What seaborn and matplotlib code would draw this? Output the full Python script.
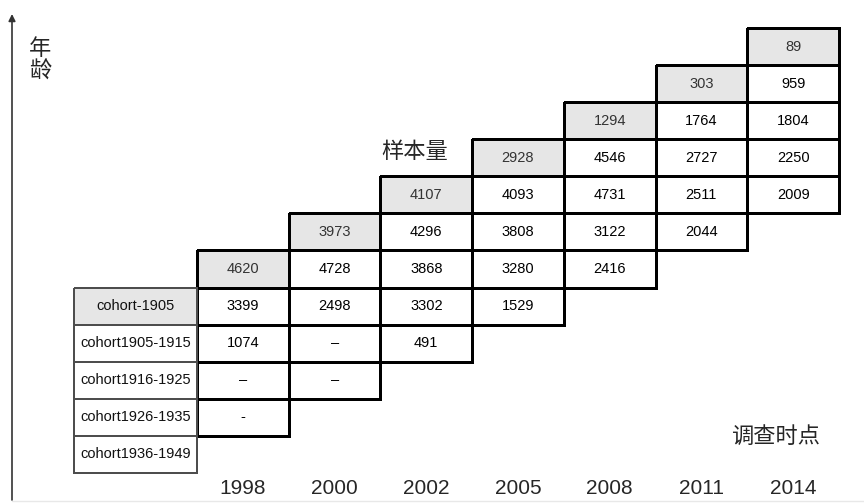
import numpy as np
import matplotlib
matplotlib.use("Agg")
import matplotlib.pyplot as plt
from matplotlib.colors import ListedColormap, to_rgba
import seaborn as sns

sns.set_style("white")
plt.rcParams['font.family'] = ['Liberation Sans', 'Noto Sans CJK SC', 'DejaVu Sans']

years = ["1998", "2000", "2002", "2005", "2008", "2011", "2014"]
cohorts = ["cohort-1905", "cohort1905-1915", "cohort1916-1925", "cohort1926-1935", "cohort1936-1949"]
# first entry of each survey column = gray header cell, then values going down
col_1998 = ["4620", "3399", "1074", "–", "-"]
col_2000 = ["3973", "4728", "2498", "–", "–"]
col_2002 = ["4107", "4296", "3868", "3302", "491"]
col_2005 = ["2928", "4093", "3808", "3280", "1529"]
col_2008 = ["1294", "4546", "4731", "3122", "2416"]
col_2011 = ["303", "1764", "2727", "2511", "2044"]
col_2014 = ["89", "959", "1804", "2250", "2009"]
columns = [col_1998, col_2000, col_2002, col_2005, col_2008, col_2011, col_2014]

n_rows = 12
# data grid: row 0 = top
fill = np.full((n_rows, len(years)), np.nan)
annot = np.full((n_rows, len(years)), "", dtype=object)
for j, col in enumerate(columns):
    top = n_rows - 1 - (5 + j)  # header row index from top
    for k, v in enumerate(col):
        fill[top + k, j] = 1 if k == 0 else 0
        annot[top + k, j] = v

lab_fill = np.full((n_rows, 1), np.nan)
lab_annot = np.full((n_rows, 1), "", dtype=object)
for k, c in enumerate(cohorts):
    r = n_rows - 5 + k
    lab_fill[r, 0] = 1 if k == 0 else 0
    lab_annot[r, 0] = c

cmap = ListedColormap(["white", "#e6e6e6"])


def hide_masked_edges(axis, data, color):
    # only keep cell borders where there is a value
    mesh = axis.collections[0]
    mesh.set_clip_on(False)
    ec = np.array([to_rgba(color)] * data.size)
    ec[np.isnan(data).ravel(), 3] = 0
    mesh.set_edgecolors(ec)


fig = plt.figure(figsize=(8.64, 5.04), dpi=100)
H = 504.0
W = 864.0
y_top, y_bot = 28, 473
ax = fig.add_axes([197 / W, 1 - y_bot / H, 642 / W, (y_bot - y_top) / H])
ax_lab = fig.add_axes([74 / W, 1 - y_bot / H, 123 / W, (y_bot - y_top) / H])

sns.heatmap(lab_fill, mask=np.isnan(lab_fill), annot=lab_annot, fmt="", cmap=cmap,
            vmin=0, vmax=1, cbar=False, linewidths=1.2, linecolor="#4d4d4d",
            xticklabels=False, yticklabels=False, ax=ax_lab,
            annot_kws={"fontsize": 10.5, "color": "#111111"})
hide_masked_edges(ax_lab, lab_fill, "#4d4d4d")
ax_lab.axis("off")

sns.heatmap(fill, mask=np.isnan(fill), annot=annot, fmt="", cmap=cmap,
            vmin=0, vmax=1, cbar=False, linewidths=2, linecolor="black",
            xticklabels=years, yticklabels=False, ax=ax,
            annot_kws={"fontsize": 10.5, "color": "black"})
hide_masked_edges(ax, fill, "black")
for t in ax.texts:
    if t.get_text() in [c[0] for c in columns]:
        t.set_color("#333333")
    else:
        t.set_fontweight("medium")
ax.tick_params(axis="x", length=0, labelsize=15, pad=4)
for s in ax.spines.values():
    s.set_visible(False)

# axis arrows
ax.annotate("", xy=(12 / W, 1 - 14 / H), xytext=(12 / W, 1 - 500 / H),
            xycoords="figure fraction", textcoords="figure fraction",
            arrowprops=dict(arrowstyle="-|>", color="#333333", lw=1.2,
                            shrinkA=0, shrinkB=0, mutation_scale=10),
            annotation_clip=False)
fig.add_artist(plt.Line2D([12 / W, 1], [1 - 501 / H, 1 - 501 / H],
                          color="#e8e8e8", lw=1))

fig.text(40 / W, 1 - 60 / H, "年\n龄", fontsize=16, ha="center", va="center",
         linespacing=1.0, family=["Noto Sans CJK SC"])
fig.text(415 / W, 1 - 152 / H, "样本量", fontsize=16, ha="center", va="center",
         family=["Noto Sans CJK SC"])
fig.text(776 / W, 1 - 436 / H, "调查时点", fontsize=16, ha="center", va="center",
         family=["Noto Sans CJK SC"])

fig.savefig("out.png", dpi=100, facecolor="white")
